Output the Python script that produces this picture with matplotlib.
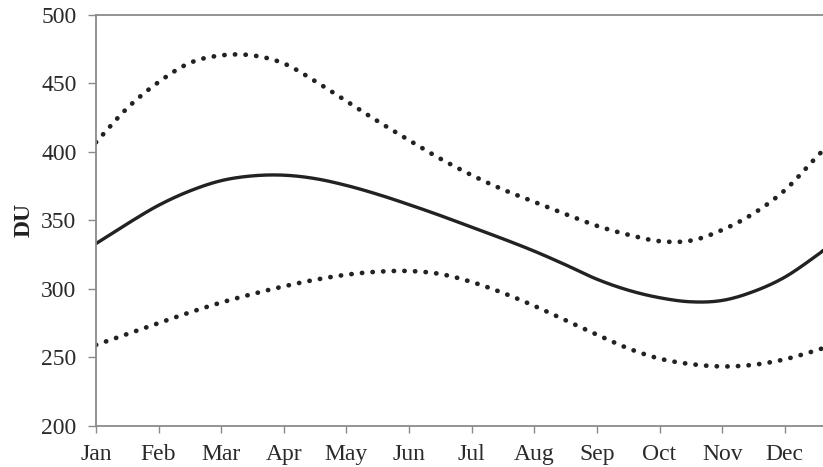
import matplotlib
matplotlib.use("Agg")
import matplotlib.pyplot as plt
import numpy as np

# Month positions (0 = Jan) at half-month steps, plus the last point at the right edge
t = [0, 0.5, 1, 1.5, 2, 2.5, 3, 3.5, 4, 4.5, 5, 5.5, 6, 6.5, 7, 7.5,
     8, 8.5, 9, 9.5, 10, 10.5, 11, 11.5, 11.61]

month_labels = ["Jan", "Feb", "Mar", "Apr", "May", "Jun",
                "Jul", "Aug", "Sep", "Oct", "Nov", "Dec"]

# Mean total ozone (DU)
mean_du = [333, 347.5, 361, 371.5, 379, 382.5, 383, 380.5, 375.5, 369, 361.5,
           353.5, 345, 336.5, 327.5, 317.5, 307, 299, 293.5, 290.5, 291.5,
           298, 308.5, 324, 328]

# Upper envelope (DU)
upper_du = [407, 432, 451, 465, 470.5, 470.5, 464.6, 451.7, 437, 422.4, 408.5,
            395, 383, 372.5, 363.5, 354.5, 346, 339.5, 334.8, 335.2, 343,
            355, 372, 396, 401]

# Lower envelope (DU)
lower_du = [259, 267, 275, 282.8, 290, 296.2, 301.8, 306.6, 310.3, 312.5,
            313, 310.8, 305, 297, 287.5, 277, 266.5, 256.5, 249, 245, 243.3,
            244.5, 248.5, 255, 256.8]


def smooth_path(x, y, steps=16):
    """Catmull-Rom curve that passes through every (x, y) point."""
    x = np.asarray(x, float)
    y = np.asarray(y, float)
    px = np.concatenate([[2 * x[0] - x[1]], x, [2 * x[-1] - x[-2]]])
    py = np.concatenate([[2 * y[0] - y[1]], y, [2 * y[-1] - y[-2]]])
    xs, ys = [], []
    s = np.linspace(0, 1, steps, endpoint=False)
    for i in range(1, len(px) - 2):
        for arr, out in ((px, xs), (py, ys)):
            p0, p1, p2, p3 = arr[i - 1], arr[i], arr[i + 1], arr[i + 2]
            out.extend(0.5 * (2 * p1 + (-p0 + p2) * s
                              + (2 * p0 - 5 * p1 + 4 * p2 - p3) * s ** 2
                              + (-p0 + 3 * p1 - 3 * p2 + p3) * s ** 3))
    xs.append(x[-1])
    ys.append(y[-1])
    return np.array(xs), np.array(ys)


plt.rcParams["font.family"] = ["Liberation Serif", "DejaVu Serif"]

fig = plt.figure(figsize=(8.23, 4.67), dpi=100)
ax = fig.add_axes([0.1166, 0.0884, 0.8834, 0.8795])

line_color = "#222222"
ax.plot(*smooth_path(t, mean_du), color=line_color, lw=2.4,
        solid_capstyle="round", solid_joinstyle="round")
dot_style = (0, (0.05, 2.2))
ax.plot(*smooth_path(t, upper_du), color=line_color, lw=3.4,
        linestyle=dot_style, dash_capstyle="round")
ax.plot(*smooth_path(t, lower_du), color=line_color, lw=3.4,
        linestyle=dot_style, dash_capstyle="round")

ax.set_xlim(0, 11.61)
ax.set_ylim(200, 500)
ax.set_yticks([200, 250, 300, 350, 400, 450, 500])
ax.set_xticks(range(12))
ax.set_xticklabels(month_labels)

for side in ("left", "bottom", "top"):
    ax.spines[side].set_color("#8a8a8a")
    ax.spines[side].set_linewidth(1.3)
ax.spines["right"].set_visible(False)

ax.tick_params(axis="both", direction="out", colors="#8a8a8a", width=1.0,
               length=6, labelsize=17, labelcolor="#2a2a2a")
ax.tick_params(axis="y", pad=8)
ax.tick_params(axis="x", length=5, pad=8)

ax.set_ylabel("DU", fontsize=17, fontweight="bold", color="#222222",
              labelpad=5)

fig.savefig("out.png", dpi=100)
